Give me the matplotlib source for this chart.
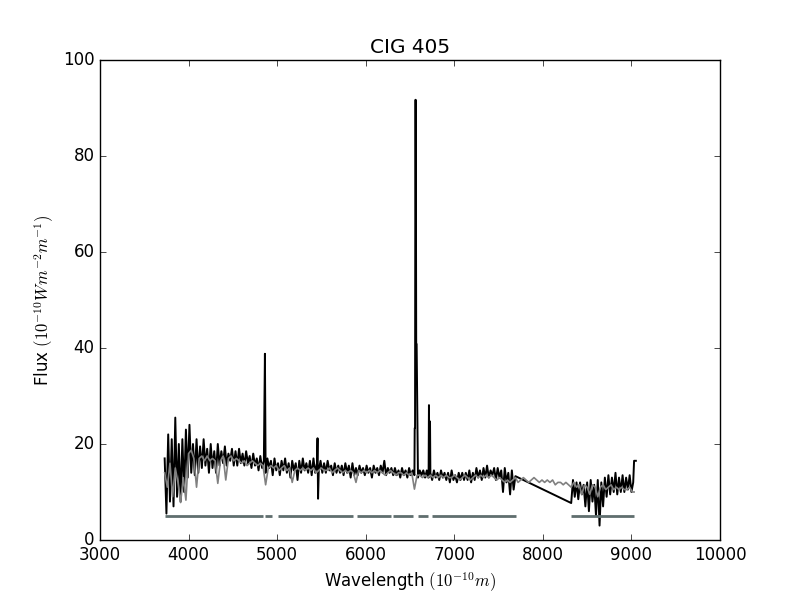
import numpy as np
import matplotlib
matplotlib.use('Agg')
import matplotlib.pyplot as plt

plt.style.use('classic')

# observed spectrum, blue part on a 20 A grid (3730..7690)
blue_flux = [
    17, 5.5, 22, 8, 21, 7, 25.5, 9, 20, 8,
    21, 10, 23, 13, 24, 14, 20, 13.5, 21, 14,
    19.5, 15, 21, 15.5, 19, 14, 20, 15, 18.5, 14,
    20, 15.5, 18.5, 16, 19.5, 15.5, 18, 16.5, 19, 15.5,
    18.5, 15.5, 19, 16, 18, 15.5, 18.5, 16, 17.5, 15,
    18, 15.5, 17, 14.5, 17.5, 15, 16.5, 14, 17, 15,
    16.5, 13.5, 17, 14.5, 16, 13.5, 16.5, 14.5, 17, 14,
    16, 13, 16.5, 14.5, 16, 12.5, 16.5, 14, 17, 14.5,
    16, 14, 16.5, 13.5, 17, 14, 16, 14.5, 16.5, 14,
    16, 14, 16.5, 14.5, 15.5, 13.5, 16, 14, 15.5, 14,
    15.5, 13.5, 16, 14, 15.5, 13, 16, 13.5, 15, 13.5,
    15.5, 14, 15, 13.5, 15.5, 14, 15, 13, 15.5, 14,
    15, 13.5, 15.5, 14, 16.5, 13.5, 15, 14, 15, 13.5,
    15, 13.5, 14.5, 13, 15, 13.5, 14.5, 13, 15, 13.5,
    14.5, 13.5, 40.8, 13, 14.5, 13.5, 14.5, 13, 14.5, 13,
    14, 12.5, 14.5, 13, 14, 12.5, 14.5, 13, 14, 12.5,
    14, 12, 14.5, 12.5, 13.5, 12, 14, 12.5, 14, 12.5,
    14, 12.5, 14.5, 12, 14, 12.5, 15, 13, 14.5, 12.5,
    15, 13, 15.5, 13, 14.5, 13.5, 15, 12.5, 15, 13,
    14.5, 10, 15, 12, 14, 9.5, 14.5, 10.5, 13.3,
]
# red part on a 20 A grid (8320..9020)
red_flux = [
    7.7, 12.5, 9, 12, 8.5, 12, 9.5, 11.5, 7, 12,
    6, 12.5, 8, 11.5, 5, 12.5, 3, 12, 7, 13,
    9, 13.5, 9.5, 13, 10, 14, 9.5, 13, 10, 13.5,
    10, 13, 10.5, 13.5, 10, 12,
]
end_wave = [9030, 9050]
end_flux = [16.5, 16.5]

# emission lines and narrow features
line_wave = [4862, 5456, 5462, 6553, 6557, 6561, 6565, 6575, 6714, 6719, 6726]
line_flux = [38.8, 21.2, 8.6, 23.3, 23.3, 91.7, 91.7, 40.8, 28.1, 13.5, 24.7]

# fitted model, 30 A grid (3730..9010)
model_flux = [
    14, 11, 16, 9, 15, 12, 7.8, 13, 8.3, 18,
    18.7, 17, 11, 17, 17.5, 16.5, 17.5, 16.5, 17, 16.5,
    11.8, 16.5, 17.5, 12.5, 17, 17.5, 16.5, 17, 16.5, 16,
    16.5, 15.5, 16, 16.5, 16, 15.5, 16, 15.5, 11.5, 15,
    15.5, 15, 15.5, 14.5, 15, 15.5, 14.5, 15, 12, 14.5,
    15, 14.5, 15, 14.5, 15, 14.5, 15, 14, 14.5, 15,
    14.5, 14.5, 15, 14, 14.5, 15, 14.5, 14, 14.5, 14,
    14.5, 14, 12, 14.5, 14, 14.5, 14, 14.5, 14, 14.5,
    14, 14.5, 14, 13.5, 14, 14.5, 14, 13.5, 14, 14,
    13.5, 14, 13.5, 14, 10.6, 13.5, 13.5, 13, 13.5, 13,
    13.5, 13, 13.5, 13, 13.5, 13, 13.5, 13, 13, 13.5,
    13, 12.5, 13, 13.5, 13, 12.5, 13, 13.5, 13, 13.5,
    13, 13.5, 13, 13.5, 13, 12.5, 13, 12.5, 12, 12.5,
    12, 12.5, 13, 12, 12.5, 13, 12.5, 12, 12.5, 13,
    12.5, 12, 12.5, 12, 12.5, 12, 12.5, 11.5, 12, 12,
    11.5, 12, 11.5, 11, 12, 11, 11.5, 9.5, 11.5, 11,
    9.5, 11.5, 11, 9, 11, 11.5, 10.5, 11, 11.5, 10.5,
    11, 10.5, 11, 10.5, 10.5, 11, 10,
]
model_end = 10

# masked (fitted) wavelength ranges
mask_start = [3734, 4863, 5010, 5902, 6308, 6590, 6748, 8318]
mask_end = [4840, 4942, 5857, 6285, 6534, 6703, 7697, 9030]
mask_level = 5

blue_wave = np.arange(3730, 7691, 20)
red_wave = np.arange(8320, 9021, 20)
wave = np.concatenate([blue_wave, line_wave, red_wave, end_wave])
flux = np.concatenate([blue_flux, line_flux, red_flux, end_flux])
order = np.argsort(wave, kind='stable')
wave, flux = wave[order], flux[order]

model_wave = np.append(np.arange(3730, 9011, 30), 9030)
model = np.append(model_flux, model_end)

mx, my = [], []
for a, b in zip(mask_start, mask_end):
    mx += [a, b, np.nan]
    my += [mask_level, mask_level, np.nan]

fig = plt.figure(figsize=(8, 6), dpi=100)
ax = fig.add_subplot(111)
ax.plot(wave, flux, 'k-', linewidth=1.4)
ax.plot(model_wave, model, color='0.5', linewidth=1.2)
ax.plot(mx, my, color='#5f6e6e', linewidth=2, solid_capstyle='butt')
ax.set_xlim(3000, 10000)
ax.set_ylim(0, 100)
ax.set_title('CIG 405')
ax.set_xlabel(r'Wavelength $(10^{-10} m)$')
ax.set_ylabel(r'Flux $(10^{-10} W m^{-2} m^{-1})$')
plt.savefig('out.png', dpi=100)
